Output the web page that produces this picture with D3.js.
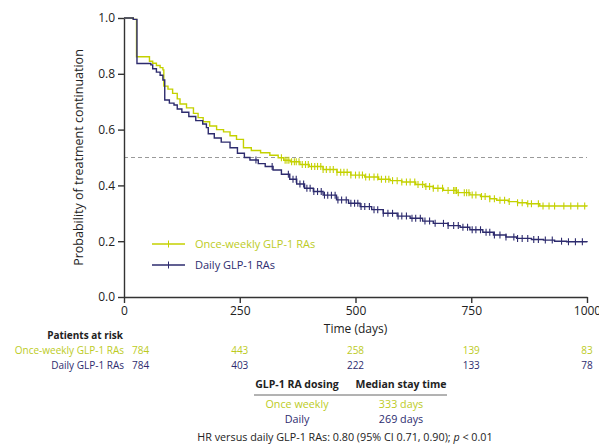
<!DOCTYPE html>
<html>
<head>
<meta charset="utf-8">
<script src="https://cdn.jsdelivr.net/npm/d3@7"></script>
<style>
  body { margin: 0; background: #fff; }
  svg { display: block; font-family: "Open Sans", sans-serif; }
  .axis path, .axis line { stroke: #333; stroke-width: 1.4; }
  .axis text { font-size: 12px; fill: #222; font-family: "Open Sans", sans-serif; }
</style>
</head>
<body>
<svg id="chart" width="599" height="444"></svg>
<script>
// ---- data ----
var weeklySteps = [[0,1.0],[20,0.995],[27,0.861],[55,0.845],[62,0.838],[70,0.83],[78,0.822],[84,0.814],[86,0.756],
  [95,0.745],[105,0.73],[115,0.71],[121,0.692],[135,0.678],[150,0.658],[160,0.643],[171,0.628],[185,0.613],
  [200,0.6],[215,0.592],[229,0.578],[243,0.565],[258,0.535],[275,0.525],[295,0.517],[315,0.508],[333,0.499],
  [345,0.49],[359,0.485],[380,0.475],[400,0.468],[430,0.457],[460,0.447],[490,0.437],[520,0.43],[550,0.422],
  [575,0.417],[600,0.412],[630,0.403],[650,0.396],[668,0.39],[690,0.382],[719,0.374],[747,0.366],[770,0.36],
  [790,0.352],[805,0.347],[830,0.342],[850,0.338],[870,0.334],[898,0.326],[1000,0.324]];

var dailySteps = [[0,1.0],[20,0.995],[28,0.837],[58,0.832],[62,0.818],[70,0.806],[78,0.795],[84,0.778],[88,0.706],
  [98,0.695],[108,0.688],[115,0.674],[125,0.662],[140,0.647],[155,0.632],[170,0.62],[178,0.607],[182,0.585],
  [195,0.57],[210,0.555],[229,0.535],[245,0.515],[260,0.5],[272,0.491],[290,0.478],[305,0.468],[322,0.455],
  [340,0.44],[358,0.422],[373,0.405],[390,0.39],[409,0.378],[430,0.365],[459,0.348],[485,0.336],[510,0.324],
  [535,0.313],[560,0.3],[590,0.29],[618,0.282],[645,0.272],[668,0.264],[700,0.256],[726,0.25],[747,0.241],
  [775,0.232],[798,0.222],[825,0.215],[848,0.21],[880,0.206],[906,0.204],[930,0.2],[956,0.198],[1000,0.196]];

var weeklyCensor = [340,348,352,356,362,368,372,378,385,392,398,405,412,418,425,430,437,445,452,460,468,475,482,
  490,500,508,515,522,530,540,548,556,565,572,580,590,600,610,618,628,635,645,652,660,668,678,688,700,712,715,718,
  722,735,740,745,752,760,772,780,790,800,812,822,832,850,860,872,880,895,905,918,930,950,965,980,995];
var dailyCensor = [285,320,355,365,372,380,388,395,402,410,418,426,433,440,448,456,462,470,480,490,498,505,512,520,
  530,540,548,560,570,580,592,600,610,622,630,640,650,660,672,690,700,712,722,732,742,752,760,770,782,790,800,812,
  825,842,850,860,872,885,895,910,925,945,960,975,990];

var seriesNames = ["Once-weekly GLP-1 RAs", "Daily GLP-1 RAs"];
var xTicks = [0, 250, 500, 750, 1000];
var yTicks = [0, 0.2, 0.4, 0.6, 0.8, 1.0];
var riskDays = [0, 250, 500, 750, 1000];
var riskWeekly = [784, 443, 258, 139, 83];
var riskDaily = [784, 403, 222, 133, 78];
var tableHeader = ["GLP-1 RA dosing", "Median stay time"];
var tableDosing = ["Once weekly", "Daily"];
var tableMedian = ["333 days", "269 days"];

var yellow = "#c4d100", navy = "#2d2b6e";
var yellowText = "#bccb1e";

// ---- setup ----
var svg = d3.select("#chart");
svg.append("rect").attr("width", 599).attr("height", 444).attr("fill", "white");

var x = d3.scaleLinear().domain([0, 1000]).range([124, 587]);
var y = d3.scaleLinear().domain([0, 1]).range([297, 18]);

// reference line at 0.5
svg.append("line")
  .attr("x1", x(0)).attr("x2", x(1000))
  .attr("y1", y(0.5)).attr("y2", y(0.5))
  .attr("stroke", "#9a9a9a").attr("stroke-width", 1)
  .attr("stroke-dasharray", "4,3");

// axes
svg.append("g").attr("class", "axis")
  .attr("transform", "translate(" + x(0) + ",0)")
  .call(d3.axisLeft(y).tickValues(yTicks).tickFormat(d3.format(".1f")).tickSize(6).tickSizeOuter(0).tickPadding(3));

svg.append("g").attr("class", "axis")
  .attr("transform", "translate(0," + y(0) + ")")
  .call(d3.axisBottom(x).tickValues(xTicks).tickFormat(d3.format("d")).tickSize(6).tickSizeOuter(0).tickPadding(3));

svg.append("text")
  .attr("transform", "translate(83," + y(0.5) + ") rotate(-90)")
  .attr("text-anchor", "middle")
  .style("font-size", "12.5px").attr("fill", "#222")
  .text("Probability of treatment continuation");

svg.append("text")
  .attr("x", x(500)).attr("y", 333)
  .attr("text-anchor", "middle")
  .style("font-size", "12px").attr("fill", "#222")
  .text("Time (days)");

// ---- curves ----
var line = d3.line()
  .x(function(d){ return x(d[0]); })
  .y(function(d){ return y(d[1]); })
  .curve(d3.curveStepAfter);

function survAt(steps, t){
  var i = d3.bisector(function(d){ return d[0]; }).right(steps, t) - 1;
  return steps[Math.max(0, i)][1];
}

function drawSeries(steps, censor, color){
  var g = svg.append("g");
  g.append("path")
    .attr("d", line(steps))
    .attr("fill", "none")
    .attr("stroke", color)
    .attr("stroke-width", 1.4);
  g.selectAll("line.censor").data(censor).enter().append("line")
    .attr("class", "censor")
    .attr("x1", function(d){ return x(d); })
    .attr("x2", function(d){ return x(d); })
    .attr("y1", function(d){ return y(survAt(steps, d)) - 3.5; })
    .attr("y2", function(d){ return y(survAt(steps, d)) + 3.5; })
    .attr("stroke", color).attr("stroke-width", 1.1);
}

drawSeries(weeklySteps, weeklyCensor, yellow);
drawSeries(dailySteps, dailyCensor, navy);

// ---- legend ----
var legend = svg.append("g").attr("transform", "translate(152,244)");
[[seriesNames[0], yellow, yellowText], [seriesNames[1], navy, navy]].forEach(function(s, i){
  var row = legend.append("g").attr("transform", "translate(0," + (i * 21) + ")");
  row.append("line").attr("x1", 0).attr("x2", 33).attr("y1", 0).attr("y2", 0)
    .attr("stroke", s[1]).attr("stroke-width", 1.3);
  row.append("line").attr("x1", 16.5).attr("x2", 16.5).attr("y1", -3.5).attr("y2", 3.5)
    .attr("stroke", s[1]).attr("stroke-width", 1);
  row.append("text").attr("x", 43).attr("y", 4)
    .style("font-size", "11px").attr("fill", s[2]).text(s[0]);
});

// ---- patients at risk ----
svg.append("text")
  .attr("x", 123).attr("y", 339)
  .attr("text-anchor", "end")
  .style("font-size", "10px").style("font-weight", "bold").attr("fill", "#222")
  .text("Patients at risk");

[[seriesNames[0], riskWeekly, yellowText, 354], [seriesNames[1], riskDaily, navy, 369]].forEach(function(r){
  svg.append("text")
    .attr("x", 124).attr("y", r[3])
    .attr("text-anchor", "end")
    .style("font-size", "10px").attr("fill", r[2])
    .text(r[0]);
  svg.selectAll(null).data(riskDays).enter().append("text")
    .attr("x", function(d, i){ return i === 0 ? x(d) + 8 : x(d); })
    .attr("y", r[3])
    .attr("text-anchor", function(d, i){ return i === 0 ? "start" : "middle"; })
    .style("font-size", "10px").attr("fill", r[2])
    .text(function(d, i){ return r[1][i]; });
});

// ---- median table ----
var col1 = 297, col2 = 401;
svg.append("text").attr("x", col1).attr("y", 388).attr("text-anchor", "middle")
  .style("font-size", "10.5px").style("font-weight", "bold").attr("fill", "#222").text(tableHeader[0]);
svg.append("text").attr("x", col2).attr("y", 388).attr("text-anchor", "middle")
  .style("font-size", "10.5px").style("font-weight", "bold").attr("fill", "#222").text(tableHeader[1]);
svg.append("line").attr("x1", 254).attr("x2", 447).attr("y1", 395).attr("y2", 395)
  .attr("stroke", "#666").attr("stroke-width", 1);

[yellowText, navy].forEach(function(c, i){
  svg.append("text").attr("x", col1).attr("y", 408 + i * 15).attr("text-anchor", "middle")
    .style("font-size", "10.75px").attr("fill", c).text(tableDosing[i]);
  svg.append("text").attr("x", col2).attr("y", 408 + i * 15).attr("text-anchor", "middle")
    .style("font-size", "10.75px").attr("fill", c).text(tableMedian[i]);
});

var hr = svg.append("text").attr("x", 345).attr("y", 441).attr("text-anchor", "middle")
  .style("font-size", "10.75px").attr("fill", "#222");
hr.append("tspan").text("HR versus daily GLP-1 RAs: 0.80 (95% CI 0.71, 0.90); ");
hr.append("tspan").style("font-style", "italic").text("p");
hr.append("tspan").text(" < 0.01");
</script>
</body>
</html>
